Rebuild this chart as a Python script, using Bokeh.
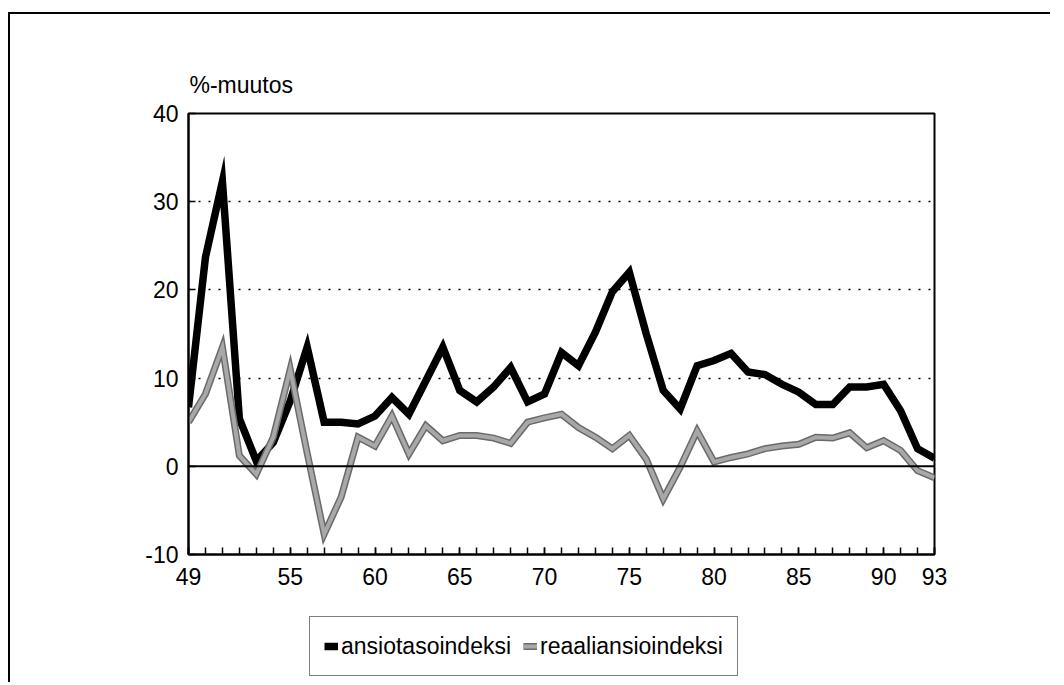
from bokeh.plotting import figure
from bokeh.layouts import column
from bokeh.models import (Range1d, FixedTicker, Span, Legend, LegendItem)
from bokeh.embed import file_html
from bokeh.resources import INLINE

years = list(range(49, 94))
ansiotasoindeksi = [6.7, 23.7, 32.3, 5.4, 0.6, 2.7, 7.4, 13.5, 5.0, 5.0,
                    4.8, 5.7, 7.8, 5.9, 9.7, 13.5, 8.6, 7.3, 9.0, 11.2,
                    7.3, 8.2, 12.9, 11.4, 15.2, 19.8, 22.0, 15.0, 8.6, 6.5,
                    11.4, 12.0, 12.8, 10.7, 10.4, 9.3, 8.4, 7.0, 7.0, 9.0,
                    9.0, 9.3, 6.3, 2.0, 0.9]
reaaliansioindeksi = [5.0, 8.2, 13.5, 1.2, -0.9, 3.3, 11.0, 1.5, -7.7, -3.5,
                      3.3, 2.3, 5.7, 1.4, 4.6, 2.9, 3.5, 3.5, 3.2, 2.6,
                      5.0, 5.5, 5.9, 4.4, 3.3, 2.0, 3.5, 0.8, -3.7, -0.1,
                      4.0, 0.5, 1.0, 1.4, 2.0, 2.3, 2.5, 3.3, 3.2, 3.8,
                      2.1, 2.9, 1.8, -0.5, -1.3]
x_tick_labels = [49, 55, 60, 65, 70, 75, 80, 85, 90, 93]
y_ticks = [-10, 0, 10, 20, 30, 40]
grid_levels = [10, 20, 30]

FONT = "Liberation Sans"
BLACK_STYLE = dict(line_color="black", line_width=7.5, line_join="miter")
GRAY_OUT = dict(line_color="#6a6a6a", line_width=7, line_join="miter")
GRAY_IN = dict(line_color="#a8a8a8", line_width=4, line_join="miter")

p = figure(frame_width=746, frame_height=441,
           min_border_left=178, min_border_right=116,
           min_border_top=99, min_border_bottom=50,
           x_range=Range1d(49, 93), y_range=Range1d(-10, 40),
           output_backend="svg", toolbar_location=None,
           background_fill_color="white", border_fill_color="white")

p.outline_line_color = "black"
p.outline_line_width = 2

# unit label above the plot
p.title.text = "%-muutos"
p.title.align = "left"
p.title.offset = 1
p.title.standoff = 32
p.title.text_font = FONT
p.title.text_font_size = "23px"
p.title.text_font_style = "normal"
p.title.text_color = "black"

# axes
p.xaxis.ticker = FixedTicker(ticks=x_tick_labels, minor_ticks=years)
p.yaxis.ticker = FixedTicker(ticks=y_ticks)
p.yaxis.major_label_overrides = {-10: "-10"}
for ax in (p.xaxis[0], p.yaxis[0]):
    ax.axis_line_color = "black"
    ax.axis_line_width = 2
    ax.major_tick_in = 7
    ax.major_tick_out = 0
    ax.major_tick_line_width = 1.5
    ax.major_tick_line_color = "black"
    ax.major_label_text_font = FONT
    ax.major_label_text_font_size = "23px"
    ax.major_label_text_color = "black"
    ax.major_label_standoff = 10
p.xaxis.minor_tick_in = 7
p.xaxis.minor_tick_out = 0
p.xaxis.minor_tick_line_width = 1.5
p.xaxis.minor_tick_line_color = "black"
p.yaxis.minor_tick_line_color = None
p.xaxis.major_label_standoff = 13

# grid
p.xgrid.grid_line_color = None
p.ygrid.ticker = FixedTicker(ticks=grid_levels)
p.ygrid.grid_line_color = "black"
p.ygrid.grid_line_width = 1.5
p.ygrid.grid_line_dash = "2 8"

p.add_layout(Span(location=0, dimension="width", line_color="black", line_width=2))

# series
p.line(years, ansiotasoindeksi, **BLACK_STYLE)
p.line(years, reaaliansioindeksi, **GRAY_OUT)
p.line(years, reaaliansioindeksi, **GRAY_IN)

# legend strip (separate panel below the chart, same series styles)
pl = figure(width=1040, height=78, min_border=0,
            x_range=Range1d(0, 1), y_range=Range1d(0, 1),
            x_axis_type=None, y_axis_type=None,
            output_backend="svg", toolbar_location=None,
            background_fill_color="white", border_fill_color="white")
pl.outline_line_color = None
pl.xgrid.visible = False
pl.ygrid.visible = False
l1 = pl.line(years, ansiotasoindeksi, **BLACK_STYLE)
l2a = pl.line(years, reaaliansioindeksi, **GRAY_OUT)
l2b = pl.line(years, reaaliansioindeksi, **GRAY_IN)

legend = Legend(items=[LegendItem(label="ansiotasoindeksi", renderers=[l1]),
                       LegendItem(label="reaaliansioindeksi", renderers=[l2a, l2b])],
                orientation="horizontal", location=(121, 6),
                label_text_font=FONT, label_text_font_size="23px",
                label_text_color="black",
                glyph_width=14, glyph_height=20, label_height=30,
                label_standoff=3, spacing=12, padding=14, margin=0,
                border_line_color="black", border_line_width=1.5,
                background_fill_color="white", background_fill_alpha=1)
pl.add_layout(legend, "center")

lay = column(p, pl, spacing=0)
lay.styles = {"border-left": "2px solid black", "border-top": "2px solid black",
              "margin-top": "12px", "margin-left": "8px"}

open("out.html", "w").write(file_html(lay, INLINE))
